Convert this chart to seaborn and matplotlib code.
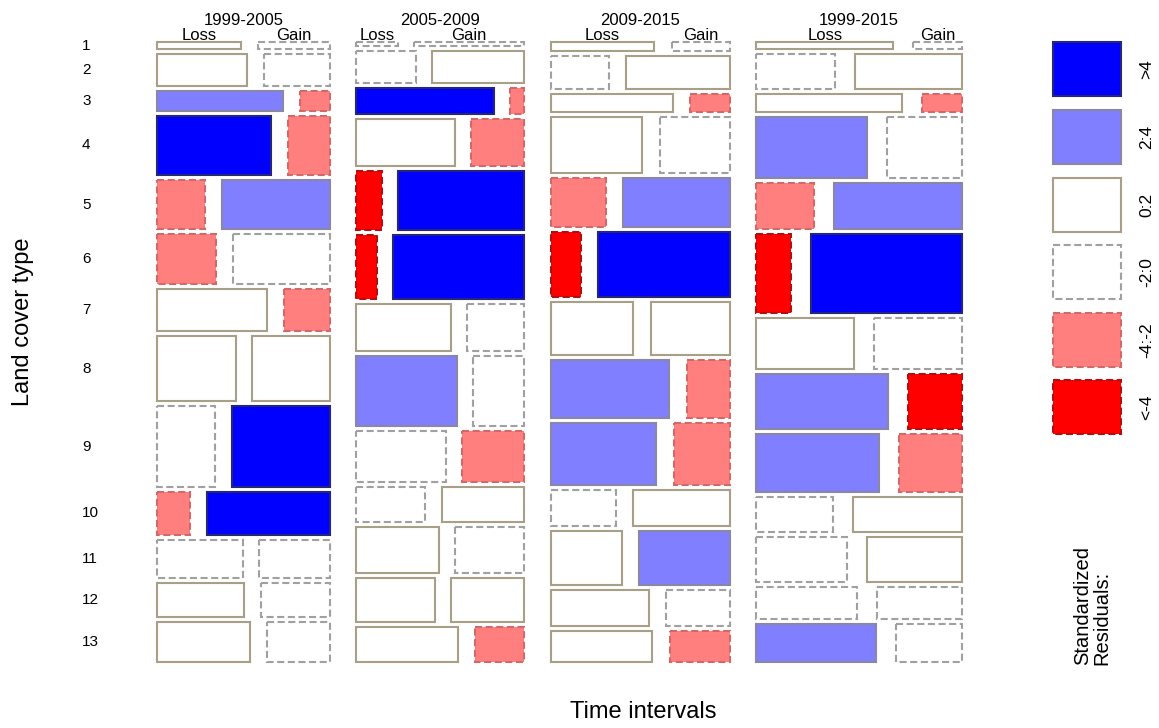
import matplotlib
matplotlib.use("Agg")
import matplotlib.pyplot as plt
from matplotlib.patches import Rectangle
import seaborn as sns

sns.set_theme(style="white")
plt.rcParams["font.family"] = ["Liberation Sans", "DejaVu Sans"]
plt.rcParams["text.color"] = "black"

# ---- data: areas of loss / gain per land cover type and time interval ----
intervals = ["1999-2005", "2005-2009", "2009-2015", "1999-2015"]
land_cover = [str(i) for i in range(1, 14)]
directions = ["Loss", "Gain"]

loss_1999_2005 = [59, 288, 245, 673, 235, 291, 468, 506, 472, 141, 329, 295, 372]
gain_1999_2005 = [50, 209, 58, 248, 531, 481, 193, 497, 794, 516, 271, 235, 252]
loss_2005_2009 = [15, 193, 351, 464, 152, 132, 449, 696, 459, 242, 379, 345, 357]
gain_2005_2009 = [40, 295, 36, 249, 743, 832, 269, 354, 319, 289, 317, 319, 173]
loss_2009_2015 = [89, 193, 216, 511, 272, 194, 435, 684, 649, 234, 387, 352, 315]
gain_2009_2015 = [50, 344, 70, 392, 530, 857, 417, 249, 345, 348, 496, 230, 186]
loss_1999_2015 = [95, 275, 257, 670, 261, 273, 493, 710, 719, 262, 405, 320, 458]
gain_1999_2015 = [34, 376, 71, 453, 586, 1206, 449, 292, 369, 375, 429, 273, 255]

# standardized residual class of each cell
res_loss_1999_2005 = ["0:2", "0:2", "2:4", ">4", "-4:-2", "-4:-2", "0:2", "0:2", "-2:0", "-4:-2", "-2:0", "0:2", "0:2"]
res_gain_1999_2005 = ["-2:0", "-2:0", "-4:-2", "-4:-2", "2:4", "-2:0", "-4:-2", "0:2", ">4", ">4", "-2:0", "-2:0", "-2:0"]
res_loss_2005_2009 = ["-2:0", "-2:0", ">4", "0:2", "<-4", "<-4", "0:2", "2:4", "-2:0", "-2:0", "0:2", "0:2", "0:2"]
res_gain_2005_2009 = ["-2:0", "0:2", "-4:-2", "-4:-2", ">4", ">4", "-2:0", "-2:0", "-4:-2", "0:2", "-2:0", "0:2", "-4:-2"]
res_loss_2009_2015 = ["0:2", "-2:0", "0:2", "0:2", "-4:-2", "<-4", "0:2", "2:4", "2:4", "-2:0", "0:2", "0:2", "0:2"]
res_gain_2009_2015 = ["-2:0", "0:2", "-4:-2", "-2:0", "2:4", ">4", "0:2", "-4:-2", "-4:-2", "0:2", "2:4", "-2:0", "-4:-2"]
res_loss_1999_2015 = ["0:2", "-2:0", "0:2", "2:4", "-4:-2", "<-4", "0:2", "2:4", "2:4", "-2:0", "-2:0", "-2:0", "2:4"]
res_gain_1999_2015 = ["-2:0", "0:2", "-4:-2", "-2:0", "2:4", ">4", "-2:0", "<-4", "-4:-2", "0:2", "0:2", "-2:0", "-2:0"]

legend_levels = [">4", "2:4", "0:2", "-2:0", "-4:-2", "<-4"]

panels = [
    (loss_1999_2005, gain_1999_2005, res_loss_1999_2005, res_gain_1999_2005),
    (loss_2005_2009, gain_2005_2009, res_loss_2005_2009, res_gain_2005_2009),
    (loss_2009_2015, gain_2009_2015, res_loss_2009_2015, res_gain_2009_2015),
    (loss_1999_2015, gain_1999_2015, res_loss_1999_2015, res_gain_1999_2015),
]

# ---- shading scheme ----
blues = sns.blend_palette(["#ffffff", "#0000ff"], 3)
reds = sns.blend_palette(["#ffffff", "#ff0000"], 3)
DASH = (0, (3.4, 1.7))
STYLE = {
    ">4":    dict(face=blues[2], edge="#25257a", ls="solid"),
    "2:4":   dict(face=blues[1], edge="#8a86a6", ls="solid"),
    "0:2":   dict(face="white", edge="#a89f88", ls="solid"),
    "-2:0":  dict(face="white", edge="#a0a0a0", ls=DASH),
    "-4:-2": dict(face=reds[1], edge="#d26868", ls=DASH),
    "<-4":   dict(face=reds[2], edge="#b01010", ls=DASH),
}

# ---- layout (figure pixels) ----
W, H = 1159, 728
fig = plt.figure(figsize=(W / 100, H / 100), dpi=100)
ax = fig.add_axes([0, 0, 1, 1])
ax.set_xlim(0, W)
ax.set_ylim(H, 0)
ax.axis("off")

x0, y0 = 157.0, 42.3          # top-left of the mosaic
mosaic_w, mosaic_h = 805.0, 620.0
panel_gap = 26.5              # between time intervals
row_gap = 5.0                 # between land cover rows
inner_frac = 0.097            # loss/gain gap as share of panel width
lw = 1.5


def cell(x, y, w, h, level):
    st = STYLE[level]
    ax.add_patch(Rectangle((x, y), w, h, facecolor=st["face"], edgecolor=st["edge"],
                           linestyle=st["ls"], linewidth=lw, joinstyle="miter"))


totals = [sum(l) + sum(g) for l, g, _, _ in panels]
grand = sum(totals)
usable_w = mosaic_w - panel_gap * (len(panels) - 1)
usable_h = mosaic_h - row_gap * (len(land_cover) - 1)

px = x0
first_row_centres = None
for p, (loss, gain, rl, rg) in enumerate(panels):
    pw = totals[p] / grand * usable_w
    gap_in = inner_frac * pw
    cw = pw - gap_in
    py = y0
    centres = []
    for i in range(len(land_cover)):
        rt = loss[i] + gain[i]
        rh = rt / totals[p] * usable_h
        wl = loss[i] / rt * cw
        wg = gain[i] / rt * cw
        cell(px, py, wl, rh, rl[i])
        cell(px + wl + gap_in, py, wg, rh, rg[i])
        if i == 0:
            ax.text(px + wl / 2, 39.5, directions[0], ha="center", va="baseline", fontsize=12)
            ax.text(px + wl + gap_in + wg / 2, 39.5, directions[1], ha="center", va="baseline", fontsize=12)
        centres.append(py + rh / 2)
        py += rh + row_gap
    ax.text(px + pw / 2, 25, intervals[p], ha="center", va="baseline", fontsize=12)
    if first_row_centres is None:
        first_row_centres = centres
    px += pw + panel_gap

# row labels (aligned with the first interval)
for lab, yc in zip(land_cover, first_row_centres):
    ax.text(82, yc, lab, ha="left", va="center", fontsize=11)

# axis titles
ax.text(23, 322, "Land cover type", rotation=90, ha="center", va="center", fontsize=17)
ax.text(643, 712, "Time intervals", ha="center", va="center", fontsize=17)

# legend
leg_x, leg_w = 1053.3, 67.4
leg_top, leg_h, leg_step = 42.3, 54.0, 67.6
for k, level in enumerate(legend_levels):
    ly = leg_top + k * leg_step
    cell(leg_x, ly, leg_w, leg_h, level)
    ax.text(1147, ly + leg_h / 2, level, rotation=90, ha="center", va="center", fontsize=12.5)

ax.text(1092, 665, "Standardized\nResiduals:", rotation=90, ha="center", va="bottom",
        multialignment="left", fontsize=14.5, linespacing=1.0)

fig.savefig("out.png", dpi=100)
